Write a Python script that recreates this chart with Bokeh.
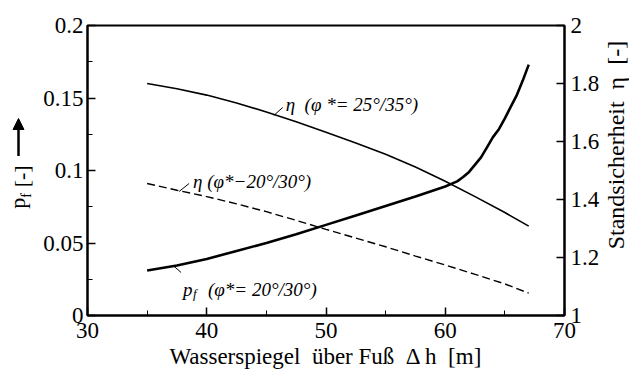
import math
from bokeh.plotting import figure
from bokeh.layouts import row
from bokeh.models import (Range1d, LinearAxis, FixedTicker, Label, Arrow,
                          NormalHead, CustomJSTickFormatter)
from bokeh.embed import file_html
from bokeh.resources import INLINE

# ---- data ----
eta25_x = [35, 37.5, 40, 42.5, 45, 47.5, 50, 52.5, 55, 57.5, 60, 62.5, 65, 67]
eta25_y = [1.800, 1.782, 1.760, 1.733, 1.702, 1.668, 1.632, 1.595, 1.556,
           1.512, 1.463, 1.410, 1.355, 1.308]

eta20_x = [35, 37.5, 40, 42.5, 45, 47.5, 50, 52.5, 55, 57.5, 60, 62.5, 65, 67]
eta20_y = [1.455, 1.432, 1.410, 1.385, 1.358, 1.328, 1.297, 1.267, 1.237,
           1.205, 1.174, 1.142, 1.109, 1.077]

pf_x = [35, 37.5, 40, 42.5, 45, 47.5, 50, 52.5, 55, 57.5, 60, 61, 61.5, 62,
        62.5, 63, 63.5, 64, 64.5, 65, 65.5, 66, 66.5, 67]
pf_y = [0.031, 0.0345, 0.039, 0.0445, 0.050, 0.056, 0.0625, 0.069, 0.0755,
        0.082, 0.089, 0.0925, 0.0955, 0.099, 0.104, 0.109, 0.116, 0.123,
        0.1285, 0.136, 0.144, 0.152, 0.162, 0.173]

x_ticks = [30, 40, 50, 60, 70]
x_minor = [35, 45, 55, 65]
pf_ticks = [0, 0.05, 0.1, 0.15, 0.2]
pf_minor = [0.025, 0.075, 0.125, 0.175]
eta_ticks = [1, 1.2, 1.4, 1.6, 1.8, 2]

x_title = "Wasserspiegel\u00a0 \u00fcber Fu\u00df\u00a0 \u0394 h\u00a0 [m]"
eta_title = "Standsicherheit\u00a0 \u03b7\u00a0 [-]"
eta_lab25 = "\u03b7\u00a0 (\u03c6 *= 25\u00b0/35\u00b0)"
eta_lab20 = "\u03b7 (\u03c6*\u221220\u00b0/30\u00b0)"
pf_lab = "(\u03c6*= 20\u00b0/30\u00b0)"

SERIF = "Liberation Serif"
H = 371
LEFT_W = 40
RIGHT_W = 27
MAIN_W = 629 - LEFT_W - RIGHT_W

# page pixel -> data helpers (frame: x 86..565, y 25..315 in page pixels)
def dx(px):
    return 30 + (px - 86) * 40.0 / 479.0

def dy(py):
    return (315 - py) * 0.2 / 290.0

# ---------------- main figure ----------------
p = figure(width=MAIN_W, height=H, output_backend="svg",
           toolbar_location=None,
           x_range=Range1d(30, 70), y_range=Range1d(0, 0.2),
           min_border_left=86 - LEFT_W, min_border_right=MAIN_W + LEFT_W - 565,
           min_border_top=25, min_border_bottom=56,
           background_fill_color="white", border_fill_color="white")
p.extra_y_ranges = {"eta": Range1d(1, 2)}
p.xgrid.visible = False
p.ygrid.visible = False
p.outline_line_color = "black"
p.outline_line_width = 2

fmt = CustomJSTickFormatter(code="return String(Math.round(tick*1000)/1000);")

def style_axis(ax):
    ax.axis_line_width = 2
    ax.axis_line_color = "black"
    ax.major_tick_in = 8
    ax.major_tick_out = 0
    ax.minor_tick_in = 5
    ax.minor_tick_out = 0
    ax.major_tick_line_width = 1.5
    ax.minor_tick_line_width = 1
    ax.major_label_text_font = SERIF
    ax.major_label_text_font_size = "23px"
    ax.major_label_text_color = "black"
    ax.major_label_standoff = 4
    ax.formatter = fmt
    ax.axis_label_text_font = SERIF
    ax.axis_label_text_font_size = "23px"
    ax.axis_label_text_font_style = "normal"
    ax.axis_label_text_color = "black"

xa = p.xaxis[0]
xa.ticker = FixedTicker(ticks=x_ticks, minor_ticks=x_minor)
style_axis(xa)
xa.major_label_standoff = 7
xa.axis_label = x_title
xa.axis_label_standoff = 3

ya = p.yaxis[0]
ya.ticker = FixedTicker(ticks=pf_ticks, minor_ticks=pf_minor)
style_axis(ya)

ra = LinearAxis(y_range_name="eta")
ra.ticker = FixedTicker(ticks=eta_ticks, minor_ticks=[])
style_axis(ra)
ra.major_label_standoff = 6
p.add_layout(ra, "right")

# ---- curves ----
p.line(eta25_x, eta25_y, y_range_name="eta", line_color="black", line_width=1.6)
p.line(eta20_x, eta20_y, y_range_name="eta", line_color="black", line_width=1.4,
       line_dash="8 4")
p.line(pf_x, pf_y, line_color="black", line_width=2.6)

# leader lines
p.segment(x0=[dx(273), dx(178), dx(172)], y0=[dy(115), dy(191), dy(265)],
          x1=[dx(282), dx(188), dx(180)], y1=[dy(107), dy(183), dy(272)],
          line_color="black", line_width=1)

# curve labels
def lab(px, py, text, size="19px", style="italic"):
    p.add_layout(Label(x=dx(px), y=dy(py), text=text, text_font=SERIF,
                       text_font_size=size, text_font_style=style,
                       text_color="black", text_baseline="alphabetic"))

lab(285, 104, eta_lab25)
lab(192, 181, eta_lab20)
lab(182, 289, "p")
lab(192, 293, "f", size="13px")
lab(207, 289, pf_lab)

# ---------------- side strips for rotated titles ----------------
def strip(w):
    f = figure(width=w, height=H, output_backend="svg", toolbar_location=None,
               x_range=Range1d(0, w), y_range=Range1d(0, H),
               x_axis_location=None, y_axis_location=None,
               min_border=0, min_border_left=0, min_border_right=0,
               min_border_top=0, min_border_bottom=0,
               background_fill_color="white", border_fill_color="white")
    f.outline_line_color = None
    f.grid.visible = False
    return f

def vlab(fig, x0, cx, cy, text, size):
    # rotated text (bottom-to-top), placed by the centre of its text box
    fig.add_layout(Label(x=cx - x0, y=H - cy, text=text,
                         text_font=SERIF, text_font_size=size,
                         text_color="black", text_align="center",
                         text_baseline="middle", angle=math.pi / 2))

# left: p_f [-] with upward arrow
q = strip(LEFT_W)
vlab(q, 0, 16.5, 227.5, "p", "22px")
vlab(q, 0, 26.0, 217.5, "f", "14px")
vlab(q, 0, 20.5, 193.0, "[-]", "22px")
q.add_layout(Arrow(x_start=18, y_start=H - 167, x_end=18, y_end=H - 119,
                   line_color="black", line_width=2.5,
                   end=NormalHead(size=11, fill_color="black",
                                  line_color="black")))

# right: Standsicherheit eta [-]
r = strip(RIGHT_W)
vlab(r, LEFT_W + MAIN_W, 615.3, 153.0, eta_title, "24px")

layout = row(q, p, r)
open("out.html", "w").write(file_html(layout, INLINE))
